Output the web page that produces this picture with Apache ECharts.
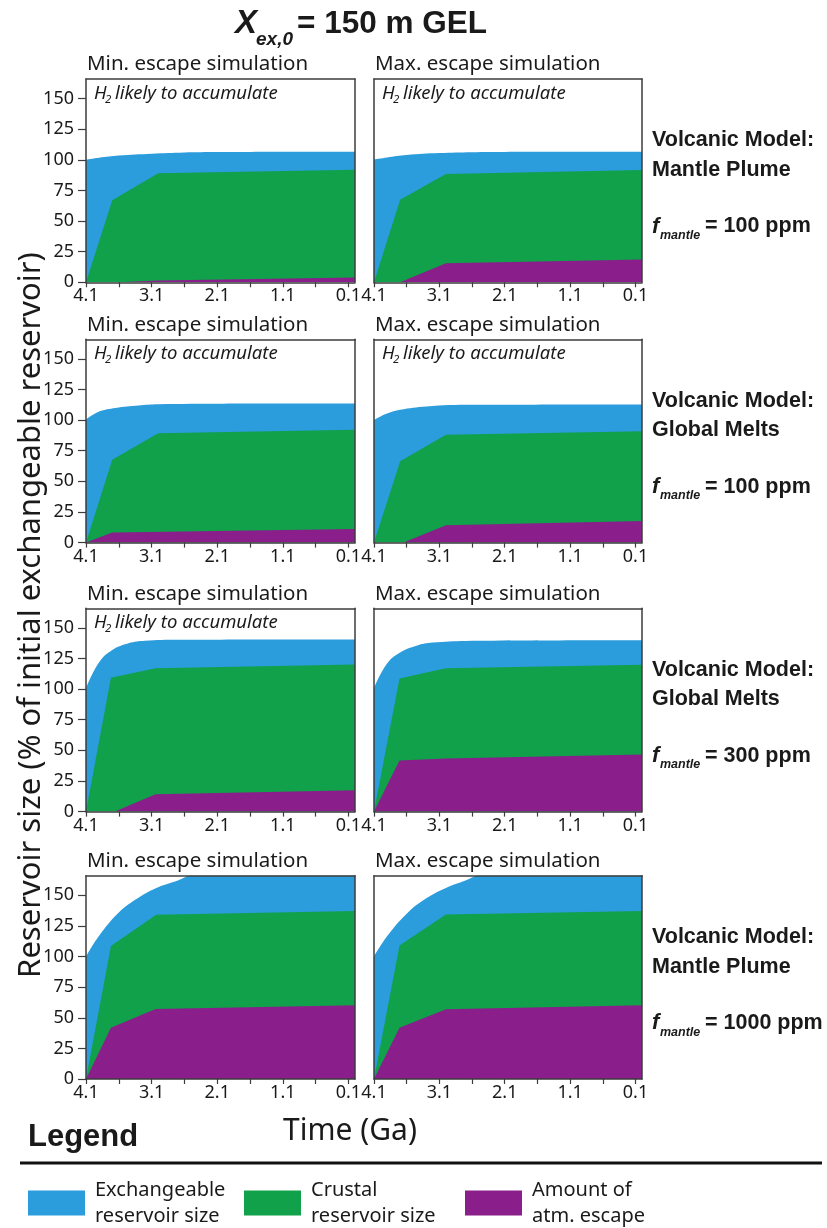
<!DOCTYPE html>
<html>
<head>
<meta charset="utf-8">
<script src="https://cdn.jsdelivr.net/npm/echarts@6/dist/echarts.min.js"></script>
<style>
  html, body { margin: 0; padding: 0; background: #fff; }
  #chart { width: 827px; height: 1228px; }
</style>
</head>
<body>
<div id="chart"></div>
<script>
  // time axis in Ga (runs 4.1 -> 0), reservoir size in % of initial exchangeable reservoir
  var tickTimes = [4.1, 3.6, 3.1, 2.6, 2.1, 1.6, 1.1, 0.6, 0.1];
  var labelTimes = [4.1, 3.1, 2.1, 1.1, 0.1];
  var yTicks = [0, 25, 50, 75, 100, 125, 150];

  var panelTitles = ['Min. escape simulation', 'Max. escape simulation'];
  var modelNames = ['Mantle Plume', 'Global Melts', 'Global Melts', 'Mantle Plume'];
  var fMantle = ['100', '100', '300', '1000'];
  var h2Accumulate = [[true, true], [true, true], [true, false], [false, false]];
  var seriesNames = ['Exchangeable\nreservoir size', 'Crustal\nreservoir size', 'Amount of\natm. escape'];
  var colors = ['#2B9CDC', '#10A14A', '#8A1F8B'];

  // upper edge of each band: [time (Ga), %]
  var exch1 = [[4.1, 100], [3.9, 101.7], [3.6, 103.5], [3.1, 105], [2.6, 106], [2.1, 106.4], [0, 106.6]];
  var crust1 = [[4.1, 0], [3.7, 67], [3.0, 89], [0, 92]];
  var esc1 = [[4.1, 0], [3.6, 0], [3.0, 1.5], [0, 4]];

  var exch2 = [[4.1, 100.3], [3.9, 102], [3.6, 104], [3.1, 105.5], [2.6, 106.2], [2.1, 106.4], [0, 106.5]];
  var crust2 = [[4.1, 0], [3.7, 67.4], [3.0, 88.4], [0, 91.7]];
  var esc2 = [[4.1, 0], [3.7, 0], [3.0, 15.6], [0, 18.6]];

  var exch3 = [[4.1, 100.5], [3.9, 107], [3.65, 110], [3.3, 112], [3.0, 113], [2.0, 113.4], [0, 113.5]];
  var crust3 = [[4.1, 0], [3.7, 67.6], [3.0, 89.2], [0, 92.2]];
  var esc3 = [[4.1, 0], [3.7, 8.2], [0, 11.2]];

  var exch4 = [[4.1, 100.3], [3.9, 105.5], [3.7, 108.5], [3.3, 111.2], [2.6, 112.5], [0, 112.8]];
  var crust4 = [[4.1, 0], [3.7, 66.5], [3.0, 88], [0, 91]];
  var esc4 = [[4.1, 0], [3.65, 0], [3.0, 14.1], [0, 17.7]];

  var exch5 = [[4.1, 101], [3.9, 122], [3.7, 132], [3.45, 137.5], [3.2, 139.5], [2.7, 140.3], [0, 140.5]];
  var crust5 = [[4.1, 0], [3.72, 109.2], [3.04, 117.1], [0, 120.2]];
  var esc5 = [[4.1, 0], [3.66, 0], [3.04, 14.2], [0, 17.4]];

  var exch6 = [[4.1, 101], [3.9, 121], [3.7, 130], [3.45, 135.5], [3.2, 138], [2.7, 139.4], [0, 139.9]];
  var crust6 = [[4.1, 0], [3.71, 108.7], [3.0, 117], [0, 120]];
  var esc6 = [[4.1, 0], [3.71, 41.8], [3.0, 43.4], [0, 46.7]];

  var exch7 = [[4.1, 100], [3.9, 117], [3.6, 136], [3.3, 148], [3.0, 156.5], [2.7, 162], [2.5, 166.5], [2.1, 171], [1.1, 175], [0, 176]];
  var crust7 = [[4.1, 0], [3.72, 108.6], [3.03, 134.2], [0, 137.2]];
  var esc7 = [[4.1, 0], [3.72, 41.8], [3.04, 57.1], [0, 60.3]];

  var exch8 = [[4.1, 100], [3.9, 116.5], [3.6, 135], [3.3, 147.5], [3.0, 156], [2.7, 162], [2.5, 166.5], [2.1, 171], [1.1, 175], [0, 176]];
  var crust8 = [[4.1, 0], [3.71, 109], [3.0, 134.3], [0, 137.2]];
  var esc8 = [[4.1, 0], [3.71, 41.8], [3.0, 57], [0, 60.3]];

  var panels = [
    [exch1, crust1, esc1], [exch2, crust2, esc2],
    [exch3, crust3, esc3], [exch4, crust4, esc4],
    [exch5, crust5, esc5], [exch6, crust6, esc6],
    [exch7, crust7, esc7], [exch8, crust8, esc8]
  ];

  // layout
  var colLeft = [86, 374];
  var colWidth = [269, 268];
  var rowTop = [79, 339.3, 608.3, 875.7];
  var rowHeight = 203.3;
  var frameColor = '#3c3c3c';
  var textColor = '#1a1a1a';

  function txt(x, y, text, size, weight, style, family, align) {
    return {
      type: 'text', x: x, y: y, silent: true,
      style: {
        text: text, fontSize: size, fontWeight: weight || 'normal', fontStyle: style || 'normal',
        fontFamily: family || 'Noto Sans', fill: textColor,
        align: align || 'left', textAlign: align || 'left',
        verticalAlign: 'middle', textVerticalAlign: 'middle'
      }
    };
  }

  var grids = [], xAxes = [], yAxes = [], series = [], graphics = [];

  for (var r = 0; r < 4; r++) {
    for (var c = 0; c < 2; c++) {
      var i = r * 2 + c;
      grids.push({ left: colLeft[c], top: rowTop[r], width: colWidth[c], height: rowHeight, outerBoundsMode: 'none' });
      // bottom time axis
      xAxes.push({
        type: 'value', gridIndex: i, min: 0, max: 4.1, inverse: true, z: 10,
        axisLine: { show: true, onZero: false, lineStyle: { color: frameColor, width: 1.5 } },
        axisTick: { show: true, length: 5, customValues: tickTimes, lineStyle: { color: frameColor, width: 1.2 } },
        axisLabel: { show: true, customValues: labelTimes, margin: 5, fontSize: 18, color: textColor, fontFamily: 'Noto Sans',
          formatter: function (v) { return v.toFixed(1); } },
        splitLine: { show: false }
      });
      // top frame
      xAxes.push({
        type: 'value', gridIndex: i, min: 0, max: 4.1, inverse: true, position: 'top', z: 10,
        axisLine: { show: true, onZero: false, lineStyle: { color: frameColor, width: 1.5 } },
        axisTick: { show: false }, axisLabel: { show: false }, splitLine: { show: false }
      });
      // left value axis
      yAxes.push({
        type: 'value', gridIndex: i, min: 0, max: 166, z: 10,
        axisLine: { show: true, onZero: false, lineStyle: { color: frameColor, width: 1.5 } },
        axisTick: { show: c === 0, length: 8, customValues: yTicks, lineStyle: { color: frameColor, width: 1.2 } },
        axisLabel: { show: c === 0, customValues: yTicks, margin: 12, fontSize: 18, color: textColor, fontFamily: 'Noto Sans' },
        splitLine: { show: false }
      });
      // right frame
      yAxes.push({
        type: 'value', gridIndex: i, min: 0, max: 166, position: 'right', z: 10,
        axisLine: { show: true, onZero: false, lineStyle: { color: frameColor, width: 1.5 } },
        axisTick: { show: false }, axisLabel: { show: false }, splitLine: { show: false }
      });

      for (var s = 0; s < 3; s++) {
        series.push({
          name: seriesNames[s], type: 'line', xAxisIndex: i * 2, yAxisIndex: i * 2,
          data: panels[i][s], showSymbol: false, symbol: 'none',
          smooth: s === 0 ? 0.4 : false,
          lineStyle: { width: 0, color: colors[s] }, itemStyle: { color: colors[s] },
          areaStyle: { color: colors[s], opacity: 1 }, silent: true, animation: false
        });
      }

      // panel title
      graphics.push(txt(colLeft[c] + 1, rowTop[r] - 14.5, panelTitles[c], 20.5));
      if (h2Accumulate[r][c]) {
        var hx = colLeft[c] + 8, hy = rowTop[r] + 14.5;
        graphics.push(txt(hx, hy, 'H', 18.5, 'normal', 'italic'));
        graphics.push(txt(hx + 11, hy + 6, '2', 11.5, 'normal', 'italic'));
        graphics.push(txt(hx + 21, hy, 'likely to accumulate', 18.5, 'normal', 'italic'));
      }
    }
    // right-hand model labels
    var t = rowTop[r];
    graphics.push(txt(652, t + 61.5, 'Volcanic Model:', 21.5, 'bold', 'normal', 'Liberation Sans'));
    graphics.push(txt(652, t + 91, modelNames[r], 21.5, 'bold', 'normal', 'Liberation Sans'));
    graphics.push(txt(652, t + 147.5, 'f', 22, 'bold', 'italic', 'Liberation Sans'));
    graphics.push(txt(660, t + 156.5, 'mantle', 12.5, 'bold', 'italic', 'Liberation Sans'));
    graphics.push(txt(705, t + 147.5, '= ' + fMantle[r] + ' ppm', 21.5, 'bold', 'normal', 'Liberation Sans'));
  }

  // main title
  graphics.push(txt(235, 23.5, 'X', 33, 'bold', 'italic', 'Liberation Sans'));
  graphics.push(txt(256, 39.5, 'ex,0', 19, 'bold', 'italic', 'Liberation Sans'));
  graphics.push(txt(297, 24, '= 150 m GEL', 31.5, 'bold', 'normal', 'Liberation Sans'));

  // axis names
  var yName = txt(31, 615, 'Reservoir size (% of initial exchangeable reservoir)', 31, 'normal', 'normal', 'Noto Sans', 'center');
  yName.rotation = Math.PI / 2;
  graphics.push(yName);
  graphics.push(txt(350, 1131, 'Time (Ga)', 30, 'normal', 'normal', 'Noto Sans', 'center'));

  // legend heading and rule
  graphics.push(txt(28, 1137, 'Legend', 31, 'bold', 'normal', 'Liberation Sans'));
  graphics.push({ type: 'line', silent: true, shape: { x1: 20, y1: 1163, x2: 822, y2: 1163 }, style: { stroke: '#111', lineWidth: 3 } });

  var legendLefts = [28, 244, 465];
  var legends = seriesNames.map(function (n, k) {
    return {
      data: [n], left: legendLefts[k], top: 1177, padding: 0, icon: 'rect',
      itemWidth: 57, itemHeight: 25, selectedMode: false,
      textStyle: { fontSize: 20, lineHeight: 26, color: textColor, fontFamily: 'Noto Sans', padding: [0, 0, 0, 5] }
    };
  });

  var chart = echarts.init(document.getElementById('chart'), null, { renderer: 'canvas' });
  chart.setOption({
    animation: false,
    backgroundColor: '#fff',
    grid: grids,
    xAxis: xAxes,
    yAxis: yAxes,
    series: series,
    legend: legends,
    graphic: { elements: graphics }
  });
</script>
</body>
</html>
